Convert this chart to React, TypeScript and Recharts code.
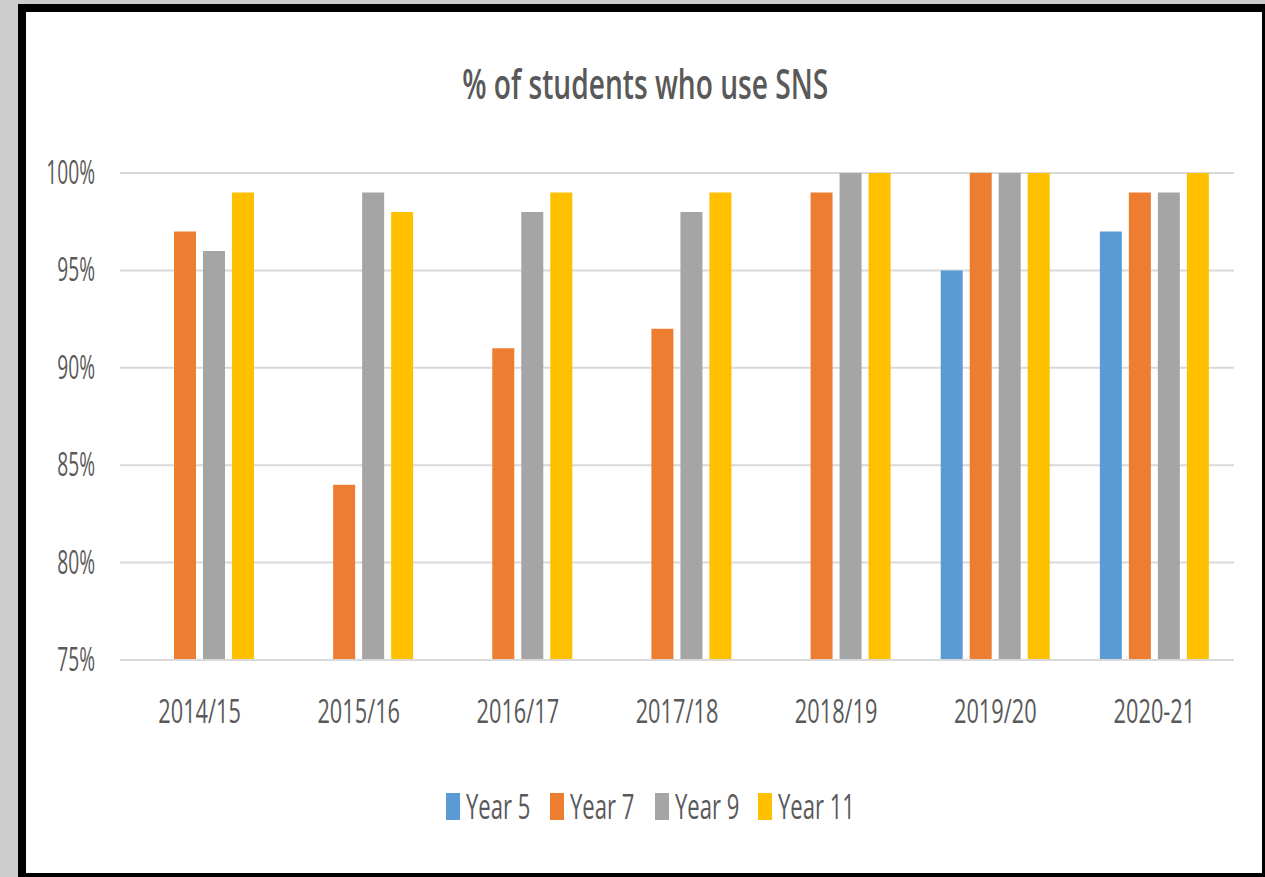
import React from 'react';
import { BarChart, Bar, XAxis, YAxis, CartesianGrid, Legend } from 'recharts';

const categories = ['2014/15', '2015/16', '2016/17', '2017/18', '2018/19', '2019/20', '2020-21'];
const year5: (number | null)[] = [null, null, null, null, null, 95, 97];
const year7: (number | null)[] = [97, 84, 91, 92, 99, 100, 99];
const year9: (number | null)[] = [96, 99, 98, 98, 100, 100, 99];
const year11: (number | null)[] = [99, 98, 99, 99, 100, 100, 100];
const yTicks = [75, 80, 85, 90, 95, 100];

const seriesNames = ['Year 5', 'Year 7', 'Year 9', 'Year 11'];
const seriesKeys = ['y5', 'y7', 'y9', 'y11'];
const colors = ['#5B9BD5', '#ED7D31', '#A5A5A5', '#FFC000'];
const legendTextWidths = [61, 62, 60, 75];

const data = categories.map((c, i) => ({
  name: c,
  y5: year5[i],
  y7: year7[i],
  y9: year9[i],
  y11: year11[i],
}));

const FONT = "'Open Sans', sans-serif";
const TEXT = '#595959';

const YTick = (props: any) => {
  const { x, y, payload } = props;
  return (
    <text
      transform={`translate(${x},${y}) scale(0.6,1)`}
      textAnchor="end"
      dy={11}
      fontSize={32}
      fontFamily={FONT}
      fill={TEXT}
    >
      {`${payload.value}%`}
    </text>
  );
};

const XTick = (props: any) => {
  const { x, y, payload } = props;
  return (
    <text
      transform={`translate(${x},${y}) scale(0.66,1)`}
      textAnchor="middle"
      dy={63}
      fontSize={33}
      fontFamily={FONT}
      fill={TEXT}
    >
      {payload.value}
    </text>
  );
};

const LegendContent = () => (
  <div style={{ height: 60, display: 'flex', justifyContent: 'center', alignItems: 'center', paddingLeft: 39, paddingTop: 6, boxSizing: 'border-box', fontFamily: FONT, fontSize: 35, color: TEXT }}>
    {seriesNames.map((n, i) => (
      <div key={n} style={{ display: 'flex', alignItems: 'center', marginRight: i < 3 ? 23 : 0 }}>
        <div style={{ width: 14, height: 27, background: colors[i], marginRight: 6 }} />
        <div style={{ width: legendTextWidths[i], whiteSpace: 'nowrap', overflow: 'visible', lineHeight: '40px' }}>
          <span style={{ display: 'inline-block', transform: 'scale(0.63,1)', transformOrigin: 'left center' }}>{n}</span>
        </div>
      </div>
    ))}
  </div>
);

export default function App() {
  return (
    <div style={{ position: 'fixed', left: 0, top: 0, width: 1265, height: 877, background: '#cdcdcd', overflow: 'hidden' }}>
      <div style={{ position: 'absolute', left: 18, top: 4, width: 1265 - 18, height: 877 - 4, background: '#000' }} />
      <div style={{ position: 'absolute', left: 26, top: 12, width: 1236, height: 861, background: '#fff' }}>
        <div style={{ position: 'absolute', left: 0, width: 1236, top: 50, textAlign: 'center', fontFamily: FONT, fontSize: 42, fontWeight: 600, color: TEXT, lineHeight: '42px', whiteSpace: 'nowrap' }}>
          <span style={{ display: 'inline-block', transform: 'translateX(1px) scale(0.67,1)', transformOrigin: 'center' }}>% of students who use SNS</span>
        </div>
        <BarChart
          width={1236}
          height={861}
          data={data}
          margin={{ top: 161, right: 28, left: 0, bottom: 40 }}
          barSize={22}
          barGap={7}
        >
          <CartesianGrid vertical={false} stroke="#d9d9d9" strokeWidth={2} />
          <XAxis
            dataKey="name"
            axisLine={{ stroke: '#d9d9d9', strokeWidth: 2 }}
            tickLine={false}
            tickSize={0}
            tickMargin={0}
            height={113}
            tick={<XTick />}
            interval={0}
          />
          <YAxis
            domain={[75, 100]}
            ticks={yTicks}
            allowDataOverflow
            axisLine={false}
            tickLine={false}
            tickSize={0}
            tickMargin={25}
            width={94}
            tick={<YTick />}
          />
          <Legend verticalAlign="bottom" height={60} content={<LegendContent />} />
          {seriesKeys.map((k, i) => (
            <Bar key={k} dataKey={k} name={seriesNames[i]} fill={colors[i]} isAnimationActive={false} />
          ))}
        </BarChart>
      </div>
    </div>
  );
}
